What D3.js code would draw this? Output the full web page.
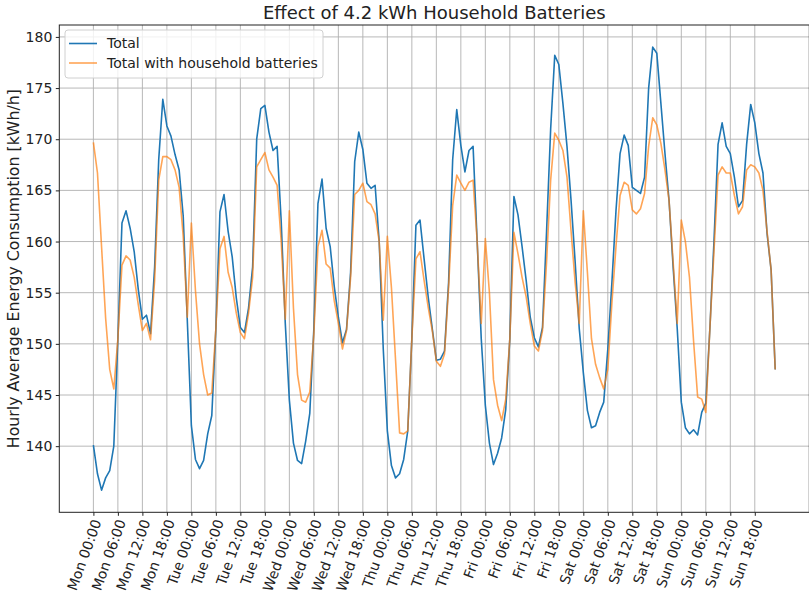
<!DOCTYPE html>
<html>
<head>
<meta charset="utf-8">
<script src="https://cdn.jsdelivr.net/npm/d3@7"></script>
<style>
  html, body { margin: 0; padding: 0; background: #fff; }
  svg { display: block; font-family: "DejaVu Sans", sans-serif; }
</style>
</head>
<body>
<svg id="chart" width="809" height="594"></svg>
<script>
// Weekday labels and hours shown on the x axis (one tick every 6 hours)
const days = ["Mon", "Tue", "Wed", "Thu", "Fri", "Sat", "Sun"];
const tickHours = ["00:00", "06:00", "12:00", "18:00"];

// Hourly average consumption over one week (kWh/h), Monday 00:00 to Sunday 23:00
const total = [
  140.1, 137.3, 135.7, 136.9, 137.6, 140.0, 150.5, 161.8, 163.0, 161.3, 159.0, 155.3,
  152.4, 152.8, 151.0, 157.5, 168.0, 173.9, 171.3, 170.3, 168.5, 167.0, 162.5, 152.3,
  142.0, 138.7, 137.8, 138.6, 141.2, 143.0, 151.5, 162.9, 164.6, 161.0, 158.5, 154.5,
  151.6, 151.1, 153.5, 157.5, 170.0, 173.0, 173.3, 170.7, 168.9, 169.3, 162.0, 152.0,
  144.5, 140.3, 138.6, 138.3, 140.5, 143.2, 151.5, 163.7, 166.1, 161.3, 159.5, 155.6,
  152.6, 150.1, 151.4, 157.0, 167.8, 170.7, 169.0, 165.7, 165.2, 165.5, 160.0, 149.5,
  141.5, 138.1, 136.9, 137.3, 138.7, 141.5, 150.5, 161.6, 162.1, 158.3, 154.6, 151.5,
  148.4, 148.5, 149.3, 156.0, 168.0, 172.9, 169.4, 166.8, 168.9, 169.3, 160.0, 150.5,
  144.0, 140.3, 138.2, 139.3, 140.8, 143.6, 150.5, 164.4, 162.6, 159.5, 156.2, 152.6,
  150.6, 149.7, 151.6, 161.0, 171.0, 178.2, 177.3, 173.5, 169.3, 164.0, 158.0, 151.5,
  147.2, 143.5, 141.8, 142.0, 143.3, 144.3, 149.5, 156.0, 163.0, 168.6, 170.4, 169.4,
  165.3, 165.0, 164.7, 166.3, 175.0, 179.0, 178.4, 173.5, 168.6, 164.0, 157.5, 151.5,
  144.3, 141.8, 141.2, 141.6, 141.1, 143.3, 144.2, 151.5, 160.0, 169.5, 171.6, 169.3,
  168.6, 166.3, 163.4, 164.0, 169.5, 173.4, 171.6, 168.6, 166.7, 160.8, 157.2, 147.5
];

const withBatteries = [
  169.7, 166.7, 159.5, 152.5, 147.5, 145.6, 150.5, 157.7, 158.6, 158.2, 156.5, 153.8,
  151.3, 152.0, 150.4, 156.2, 166.0, 168.3, 168.3, 168.0, 167.0, 165.3, 160.5, 152.6,
  161.8, 155.2, 150.0, 147.0, 145.0, 145.2, 151.5, 159.3, 160.5, 157.0, 155.5, 153.0,
  151.1, 150.5, 153.0, 156.5, 167.3, 168.0, 168.7, 167.0, 166.3, 165.5, 160.0, 152.4,
  163.0, 153.5, 147.0, 144.5, 144.3, 145.3, 151.0, 159.5, 161.1, 157.8, 157.4, 154.2,
  152.0, 149.5, 151.3, 156.5, 164.6, 165.0, 165.7, 163.9, 163.6, 162.7, 160.0, 152.3,
  160.5, 155.5, 148.5, 141.3, 141.2, 141.5, 150.5, 158.3, 159.0, 156.2, 153.6, 151.3,
  148.3, 147.8, 149.0, 155.5, 163.5, 166.5, 165.7, 165.0, 165.8, 166.0, 160.0, 152.0,
  160.3, 155.0, 146.5, 144.0, 142.5, 144.6, 150.5, 160.9, 158.8, 156.5, 154.6, 152.0,
  149.8, 149.3, 151.3, 158.0, 166.0, 170.6, 169.9, 168.9, 166.3, 161.0, 156.0, 152.0,
  163.0, 157.0, 150.5, 148.0, 146.7, 145.6, 147.5, 154.0, 159.5, 164.5, 165.8, 165.5,
  163.1, 162.7, 163.2, 164.7, 169.3, 172.1, 171.4, 169.6, 167.0, 164.0, 158.0, 152.0,
  162.1, 160.0, 156.5, 150.3, 144.8, 144.6, 143.3, 151.5, 159.0, 166.5, 167.3, 166.7,
  166.7, 164.5, 162.7, 163.4, 167.0, 167.5, 167.3, 166.7, 165.0, 161.0, 157.2, 147.5
];

const yTicks = [140, 145, 150, 155, 160, 165, 170, 175, 180];
const seriesNames = ["Total", "Total with household batteries"];

const hours = d3.range(total.length);
const tickValues = d3.range(0, days.length * 24, 6);
const tickLabels = tickValues.map(h => `${days[Math.floor(h / 24)]} ${tickHours[(h % 24) / 6]}`);

const svg = d3.select("#chart");
const plot = { left: 59.3, right: 809.3, top: 25, bottom: 512.3 };

// matplotlib-style 5% padding around the data range
const xPad = (hours.length - 1) * 0.05;
const x = d3.scaleLinear()
  .domain([-xPad, hours.length - 1 + xPad])
  .range([plot.left, plot.right]);

const allVals = total.concat(withBatteries);
const yMin = d3.min(allVals), yMax = d3.max(allVals);
const yPad = (yMax - yMin) * 0.05;
const y = d3.scaleLinear()
  .domain([yMin - yPad, yMax + yPad])
  .range([plot.bottom, plot.top]);

svg.append("defs").append("clipPath").attr("id", "plotClip")
  .append("rect")
  .attr("x", plot.left).attr("y", plot.top)
  .attr("width", plot.right - plot.left).attr("height", plot.bottom - plot.top);

// grid
const grid = svg.append("g").attr("clip-path", "url(#plotClip)");
grid.selectAll("line.vg").data(tickValues).join("line")
  .attr("x1", d => x(d)).attr("x2", d => x(d))
  .attr("y1", plot.top).attr("y2", plot.bottom)
  .attr("stroke", "#b0b0b0").attr("stroke-width", 0.9);
grid.selectAll("line.hg").data(yTicks).join("line")
  .attr("x1", plot.left).attr("x2", plot.right)
  .attr("y1", d => y(d)).attr("y2", d => y(d))
  .attr("stroke", "#b0b0b0").attr("stroke-width", 0.9);

// lines
const line = d3.line().x((d, i) => x(i)).y(d => y(d));
const lines = svg.append("g").attr("clip-path", "url(#plotClip)");
lines.append("path").datum(total)
  .attr("d", line).attr("fill", "none")
  .attr("stroke", "#1f77b4").attr("stroke-width", 1.6)
  .attr("stroke-linejoin", "round");
lines.append("path").datum(withBatteries)
  .attr("d", line).attr("fill", "none")
  .attr("stroke", "#ff7f0e").attr("stroke-opacity", 0.7).attr("stroke-width", 1.6)
  .attr("stroke-linejoin", "round");

// spines
svg.append("rect")
  .attr("x", plot.left).attr("y", plot.top)
  .attr("width", plot.right - plot.left).attr("height", plot.bottom - plot.top)
  .attr("fill", "none").attr("stroke", "#222").attr("stroke-width", 1);

// y axis
const yAxis = d3.axisLeft(y).tickValues(yTicks).tickSize(3.5).tickPadding(3.5);
const gy = svg.append("g").attr("transform", `translate(${plot.left},0)`).call(yAxis);
gy.select(".domain").remove();
gy.selectAll(".tick line").attr("stroke", "#222");
gy.selectAll(".tick text").attr("font-size", 14).attr("fill", "#222")
  .attr("font-family", "DejaVu Sans");

// x axis
const xAxis = d3.axisBottom(x).tickValues(tickValues).tickSize(3.5)
  .tickFormat((d, i) => tickLabels[i]);
const gx = svg.append("g").attr("transform", `translate(0,${plot.bottom})`).call(xAxis);
gx.select(".domain").remove();
gx.selectAll(".tick line").attr("stroke", "#222");
gx.selectAll(".tick text")
  .attr("font-size", 14).attr("fill", "#222").attr("font-family", "DejaVu Sans")
  .attr("text-anchor", "end").attr("dy", null)
  .attr("transform", "translate(4,8) rotate(-70)")
  .attr("x", 0).attr("y", 0).attr("dominant-baseline", "middle");

// title
svg.append("text")
  .attr("x", (plot.left + plot.right) / 2).attr("y", 19)
  .attr("text-anchor", "middle").attr("font-size", 18).attr("fill", "#222")
  .text("Effect of 4.2 kWh Household Batteries");

// y label
svg.append("text")
  .attr("transform", `translate(19,${(plot.top + plot.bottom) / 2}) rotate(-90)`)
  .attr("text-anchor", "middle").attr("font-size", 15.8).attr("fill", "#222")
  .text("Hourly Average Energy Consumption [kWh/h]");

// legend
const lg = svg.append("g").attr("transform", "translate(65,30)");
lg.append("rect").attr("width", 258).attr("height", 48).attr("rx", 3)
  .attr("fill", "#fff").attr("fill-opacity", 0.8)
  .attr("stroke", "#d0d0d0").attr("stroke-width", 1);
const colors = ["#1f77b4", "#ff7f0e"];
seriesNames.forEach((name, i) => {
  const yy = 13.5 + i * 19.5;
  lg.append("line").attr("x1", 4).attr("x2", 32).attr("y1", yy).attr("y2", yy)
    .attr("stroke", colors[i]).attr("stroke-width", 1.6)
    .attr("stroke-opacity", i === 1 ? 0.7 : 1);
  lg.append("text").attr("x", 42).attr("y", yy).attr("dy", "0.35em")
    .attr("font-size", 14).attr("fill", "#222").text(name);
});
</script>
</body>
</html>
